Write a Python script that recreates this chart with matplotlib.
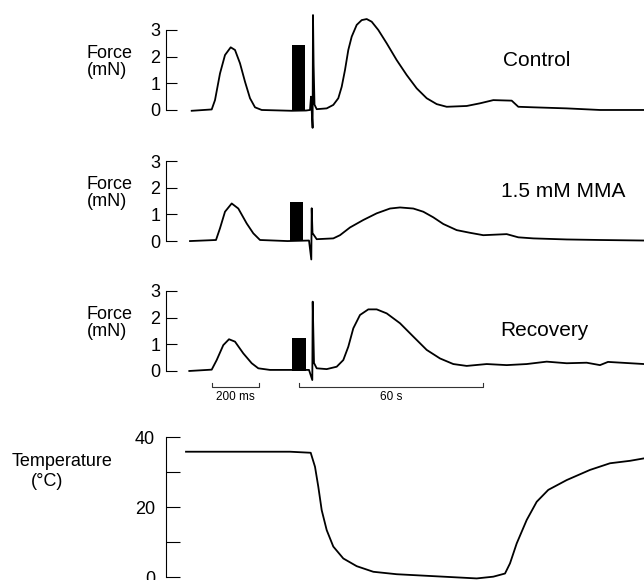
import numpy as np
import matplotlib
matplotlib.use('Agg')
import matplotlib.pyplot as plt

plt.rcParams['font.family'] = ['Liberation Sans', 'DejaVu Sans']

# posicion a lo largo del registro (unidades arbitrarias del papel)
x_control = [25.7, 45.7, 49, 54, 59, 64.7, 69, 74, 79, 84, 89, 95.7, 125.7, 140, 144, 145, 146.6, 147.0,
             147.6, 148.5, 150.7, 160.7, 167.3, 172.3, 175.7, 179, 182.3, 185.7, 190.7, 195.7, 200.7,
             205.7, 212.3, 220.7, 230.7, 240.7, 250.7, 260.7, 270.7, 280.7, 300.7, 314, 327.3, 345.7,
             352.3, 367.3, 400.7, 434, 478]
f_control = [-0.03, 0.02, 0.37, 1.37, 2.06, 2.35, 2.25, 1.75, 1.06, 0.44, 0.1, 0.0, -0.03, -0.02, 0.0,
             0.5, -0.67, 3.56, 1.7, 0.2, 0.03, 0.06, 0.19, 0.44, 0.87, 1.5, 2.25, 2.75, 3.19, 3.37, 3.41,
             3.31, 3.0, 2.5, 1.87, 1.31, 0.81, 0.44, 0.22, 0.12, 0.15, 0.25, 0.37, 0.35, 0.12, 0.1, 0.06,
             0.0, 0.0]

x_mma = [24, 50, 54, 59, 65.7, 72.3, 80.7, 87.3, 94, 121.5, 143, 145.3, 145.7, 146.5, 150.7, 167.3, 174,
         184, 197.3, 210.7, 224, 234, 247.3, 257.3, 267.3, 277.3, 290.7, 304, 317.3, 340.7, 352.3, 367.3,
         400.7, 434, 478]
f_mma = [0.0, 0.04, 0.48, 1.1, 1.41, 1.22, 0.66, 0.29, 0.04, 0.0, 0.02, -0.69, 1.23, 0.3, 0.07, 0.1,
         0.22, 0.51, 0.79, 1.04, 1.22, 1.26, 1.22, 1.1, 0.89, 0.64, 0.41, 0.31, 0.22, 0.26, 0.14, 0.1,
         0.06, 0.04, 0.02]

x_rec = [23.3, 45.7, 50.7, 57.3, 63, 69, 77.3, 85.7, 92.3, 104, 126.7, 143, 146.3, 146.7, 148, 150.7,
         160.7, 170.7, 177.3, 182.3, 187.3, 194, 202.3, 210.7, 220.7, 234, 247.3, 260.7, 274, 287.3,
         300.7, 320.7, 340.7, 360.7, 380.7, 400.7, 420.7, 434, 442, 478]
f_rec = [0.0, 0.05, 0.41, 0.97, 1.19, 1.1, 0.66, 0.29, 0.1, 0.04, 0.04, 0.04, -0.34, 2.6, 0.3, 0.1,
         0.07, 0.16, 0.41, 0.91, 1.6, 2.1, 2.31, 2.31, 2.16, 1.79, 1.29, 0.79, 0.47, 0.26, 0.19, 0.26,
         0.22, 0.26, 0.35, 0.29, 0.31, 0.22, 0.34, 0.26]

# barras de estimulacion (inicio, ancho, altura)
bar_left = [126, 124, 126]
bar_width = [13, 13, 13.5]
bar_height = [2.43, 1.47, 1.25]

x_temp = [20, 124, 144.7, 149, 152.3, 155.7, 160.7, 167.3, 177.3, 190.7, 207.3, 230.7, 264, 290.7,
          310.7, 327.3, 339, 344, 350.7, 360.7, 370.7, 382.3, 400.7, 424, 444, 464, 478]
t_temp = [35.8, 35.8, 35.5, 31.5, 25.8, 19.1, 13.4, 8.7, 5.3, 3.1, 1.5, 0.8, 0.3, -0.1, -0.4, 0.1, 1.0,
          3.9, 9.6, 16.3, 21.5, 24.9, 27.7, 30.6, 32.5, 33.2, 33.9]

labels = ['Control', '1.5 mM MMA', 'Recovery']
label_pos = [(0.833, 0.896), (0.874, 0.669), (0.846, 0.431)]
force_lab_y = [0.893, 0.667, 0.443]
ax_bottoms = [0.769, 0.543, 0.319]

fig = plt.figure(figsize=(6.44, 5.8), dpi=100)

trazos = [(x_control, f_control), (x_mma, f_mma), (x_rec, f_rec)]
axes = []
for i in range(3):
    ax = fig.add_axes([166 / 644, ax_bottoms[i], 478 / 644, 0.2115])
    xs, fs = trazos[i]
    ax.plot(xs, fs, color='black', lw=1.3, solid_joinstyle='round')
    ax.bar(bar_left[i], bar_height[i], width=bar_width[i], align='edge', color='black', lw=0)
    ax.set_xlim(0, 478)
    ax.set_ylim(-0.9, 3.7)
    for s in ['top', 'right', 'bottom']:
        ax.spines[s].set_visible(False)
    ax.spines['left'].set_bounds(0, 3)
    ax.spines['left'].set_linewidth(0.8)
    ax.set_yticks([0, 1, 2, 3])
    ax.tick_params(axis='y', direction='in', length=8, width=0.8, pad=4, labelsize=13)
    ax.set_xticks([])
    ax.patch.set_alpha(0)
    fig.text(0.135, force_lab_y[i], 'Force\n(mN)', ha='left', va='center', fontsize=13,
             linespacing=1.05, multialignment='left')
    fig.text(label_pos[i][0], label_pos[i][1], labels[i], ha='center', va='center', fontsize=15)
    axes.append(ax)

# barras de escala debajo del ultimo registro
ax3 = axes[2]
for (a, b), txt in zip([(46, 93), (133, 317)], ['200 ms', '60 s']):
    ax3.plot([a, a, b, b], [-0.45, -0.6, -0.6, -0.45], color='#333333', lw=0.8, clip_on=False)
    ax3.text((a + b) / 2, -0.97, txt, ha='center', va='center', fontsize=8.5)

# temperatura
axt = fig.add_axes([166 / 644, 0.0003, 478 / 644, 0.2583])
axt.plot(x_temp, t_temp, color='black', lw=1.3)
axt.set_xlim(0, 478)
axt.set_ylim(-0.8, 42)
for s in ['top', 'right', 'bottom']:
    axt.spines[s].set_visible(False)
axt.spines['left'].set_bounds(0, 40)
axt.spines['left'].set_linewidth(0.8)
axt.set_yticks([0, 20, 40])
axt.set_yticks([10, 30], minor=True)
axt.tick_params(axis='y', which='both', direction='in', length=10, width=0.8, pad=8, labelsize=13)
axt.set_xticks([])
axt.patch.set_alpha(0)
fig.text(0.0186, 0.205, 'Temperature', ha='left', va='center', fontsize=13)
fig.text(0.048, 0.169, '(°C)', ha='left', va='center', fontsize=13)

fig.savefig('out.png', dpi=100)
